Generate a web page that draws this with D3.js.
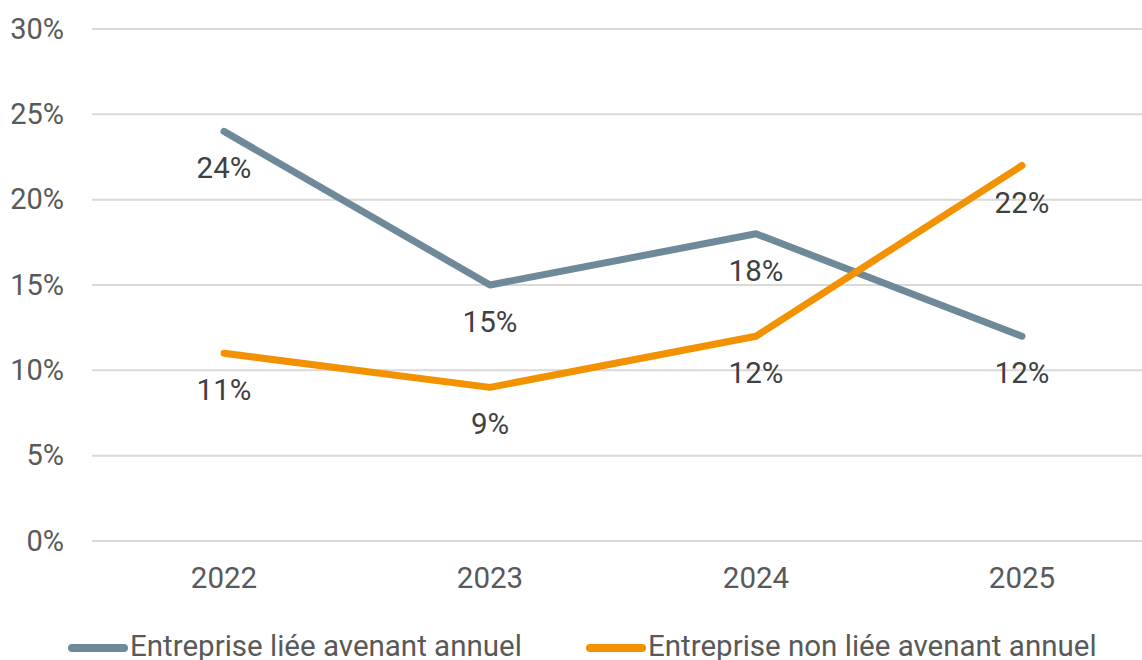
<!DOCTYPE html>
<html>
<head>
<meta charset="utf-8">
<script src="https://cdn.jsdelivr.net/npm/d3@7"></script>
<style>
  body { margin: 0; background: #fff; }
  svg { font-family: Roboto, sans-serif; }
</style>
</head>
<body>
<script>
// data
let years = ["2022", "2023", "2024", "2025"];
let lie = [24, 15, 18, 12];
let nonLie = [11, 9, 12, 22];
let seriesNames = ["Entreprise liée avenant annuel", "Entreprise non liée avenant annuel"];
let seriesColors = ["#6e8a9a", "#f39200"];
let yTicks = [0, 5, 10, 15, 20, 25, 30];

var W = 1142, H = 660;
var margin = {top: 29, left: 91, bottom: 119},
    plotW = 1064,
    plotH = H - margin.top - margin.bottom;

var svg = d3.select("body").append("svg")
    .attr("width", W)
    .attr("height", H);

var g = svg.append("g")
    .attr("transform", "translate(" + margin.left + "," + margin.top + ")");

var x = d3.scaleBand().domain(years).range([0, plotW]);
var y = d3.scaleLinear().domain([0, 30]).range([plotH, 0]);

// gridlines
g.selectAll(".grid")
    .data(yTicks)
    .enter().append("line")
    .attr("x1", 1)
    .attr("x2", W - margin.left)
    .attr("y1", d => y(d))
    .attr("y2", d => y(d))
    .attr("stroke", "#d9d9d9")
    .attr("stroke-width", 2);

// y axis labels
var yAxis = d3.axisLeft(y).tickValues(yTicks).tickSize(0).tickPadding(27)
    .tickFormat(d => d + "%");
g.append("g").call(yAxis)
    .call(a => a.select(".domain").remove())
    .selectAll("text")
    .attr("fill", "#595959")
    .style("font-size", "29px")
    .style("font-family", "Roboto, sans-serif");

// x axis labels
var xAxis = d3.axisBottom(x).tickSize(0).tickPadding(26);
g.append("g")
    .attr("transform", "translate(0," + plotH + ")")
    .call(xAxis)
    .call(a => a.select(".domain").remove())
    .selectAll("text")
    .attr("fill", "#595959")
    .style("font-size", "29.5px")
    .style("font-family", "Roboto, sans-serif");

var line = d3.line()
    .x((d, i) => x(years[i]) + x.bandwidth() / 2)
    .y(d => y(d));

[lie, nonLie].forEach(function(s, k) {
  g.append("path")
      .datum(s)
      .attr("d", line)
      .attr("fill", "none")
      .attr("stroke", seriesColors[k])
      .attr("stroke-width", 7)
      .attr("stroke-linecap", "round")
      .attr("stroke-linejoin", "round");

  g.selectAll(".lbl" + k)
      .data(s)
      .enter().append("text")
      .attr("x", (d, i) => x(years[i]) + x.bandwidth() / 2)
      .attr("y", d => y(d) + 47)
      .attr("text-anchor", "middle")
      .attr("fill", "#404040")
      .style("font-size", "29.5px")
      .text(d => d + "%");
});

// legend
var legX = [68, 586];
seriesNames.forEach(function(name, k) {
  var lg = svg.append("g");
  lg.append("line")
      .attr("x1", legX[k] + 4)
      .attr("x2", legX[k] + 56)
      .attr("y1", 648)
      .attr("y2", 648)
      .attr("stroke", seriesColors[k])
      .attr("stroke-width", 8)
      .attr("stroke-linecap", "round");
  lg.append("text")
      .attr("x", legX[k] + 62)
      .attr("y", 656)
      .attr("fill", "#595959")
      .style("font-size", "29.5px")
      .text(name);
});
</script>
</body>
</html>
